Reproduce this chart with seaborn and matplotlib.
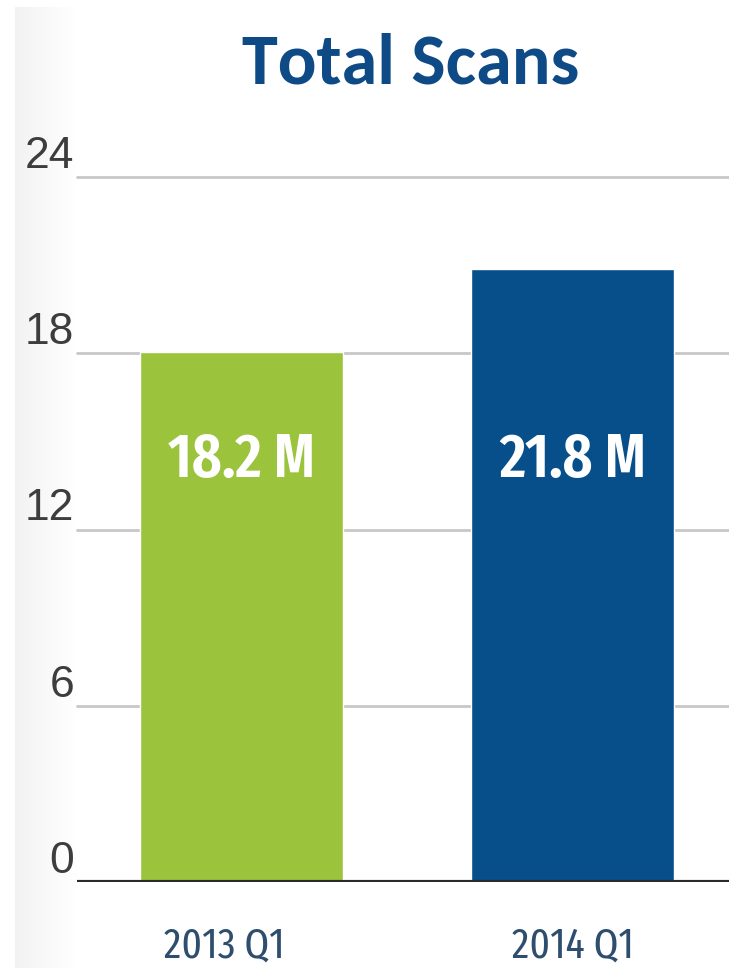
import matplotlib
matplotlib.use("Agg")
import matplotlib.pyplot as plt
import matplotlib.transforms as mtransforms
import numpy as np
import pandas as pd
import seaborn as sns

# ---- data ----
categories = ["2013 Q1", "2014 Q1"]
values = [18.05, 20.87]            # drawn bar heights (millions)
bar_labels = ["18.2 M", "21.8 M"]
y_ticks = [0, 6, 12, 18, 24]
title = "Total Scans"

colors = ["#9BC33C", "#064F8B"]

sns.set_theme(style="white")
plt.rcParams["font.family"] = ["Liberation Sans", "DejaVu Sans"]

W, H = 729, 968
PX2PT = 72 / 100
fig = plt.figure(figsize=(W / 100, H / 100), dpi=100)
fig.patch.set_facecolor("white")

# left gray gradient strip
bg = fig.add_axes([15 / W, 0, 62 / W, 1 - 7 / H], zorder=-5)
grad = np.linspace(0.95, 1.0, 100)[None, :]
bg.imshow(np.dstack([grad, grad, grad]), aspect="auto", extent=[0, 1, 0, 1])
bg.axis("off")

ax = fig.add_axes([77 / W, (H - 882) / H, 1 - 77 / W, (882 - 177) / H])
ax.patch.set_alpha(0)

df = pd.DataFrame({"cat": categories, "val": values})
sns.barplot(data=df, x="cat", y="val", hue="cat", palette=colors,
            width=0.613, legend=False, ax=ax, saturation=1, zorder=3)

ax.set_xlim(-0.497, 1.473)
ax.set_ylim(0, 24)
ax.set_yticks(y_ticks)
ax.set_yticklabels([str(t) for t in y_ticks])
for lbl in ax.get_yticklabels():
    lbl.set_va("bottom")
    lbl.set_fontsize(32)
    lbl.set_color("#3d3d3d")
ax.tick_params(axis="y", length=0, pad=2)
ax.tick_params(axis="x", length=0, pad=(958 - 882) * PX2PT)

for y in y_ticks[1:]:
    ax.axhline(y, color="#c8c8c8", lw=2, zorder=1, clip_on=False)
ax.axhline(0, color="#2a2a2a", lw=3, zorder=4)

for s in ax.spines.values():
    s.set_visible(False)

ax.set_xlabel("")
ax.set_ylabel("")
ax.set_xticks(range(len(categories)))
ax.set_xticklabels(categories, fontsize=31, color="#2F4E6E",
                   family="Fira Sans Extra Condensed", fontweight=400)
xl = ax.get_xticklabels()
for lbl in xl:
    lbl.set_va("baseline")
# first category label sits a little left of its bar in the reference
xl[0].set_transform(xl[0].get_transform() +
                    mtransforms.ScaledTranslation(-17 / 100, 0, fig.dpi_scale_trans))

for i, (v, t) in enumerate(zip(values, bar_labels)):
    ax.text(i, 13.79, t, ha="center", va="baseline", color="white",
            fontsize=45, fontweight=600, family="Fira Sans Extra Condensed",
            zorder=5)

fig.text(411 / W, 1 - 83 / H, title, ha="center", va="baseline",
         fontsize=52, fontweight="bold", color="#0D4A86", family="Carlito")

fig.savefig("out.png", dpi=100)
